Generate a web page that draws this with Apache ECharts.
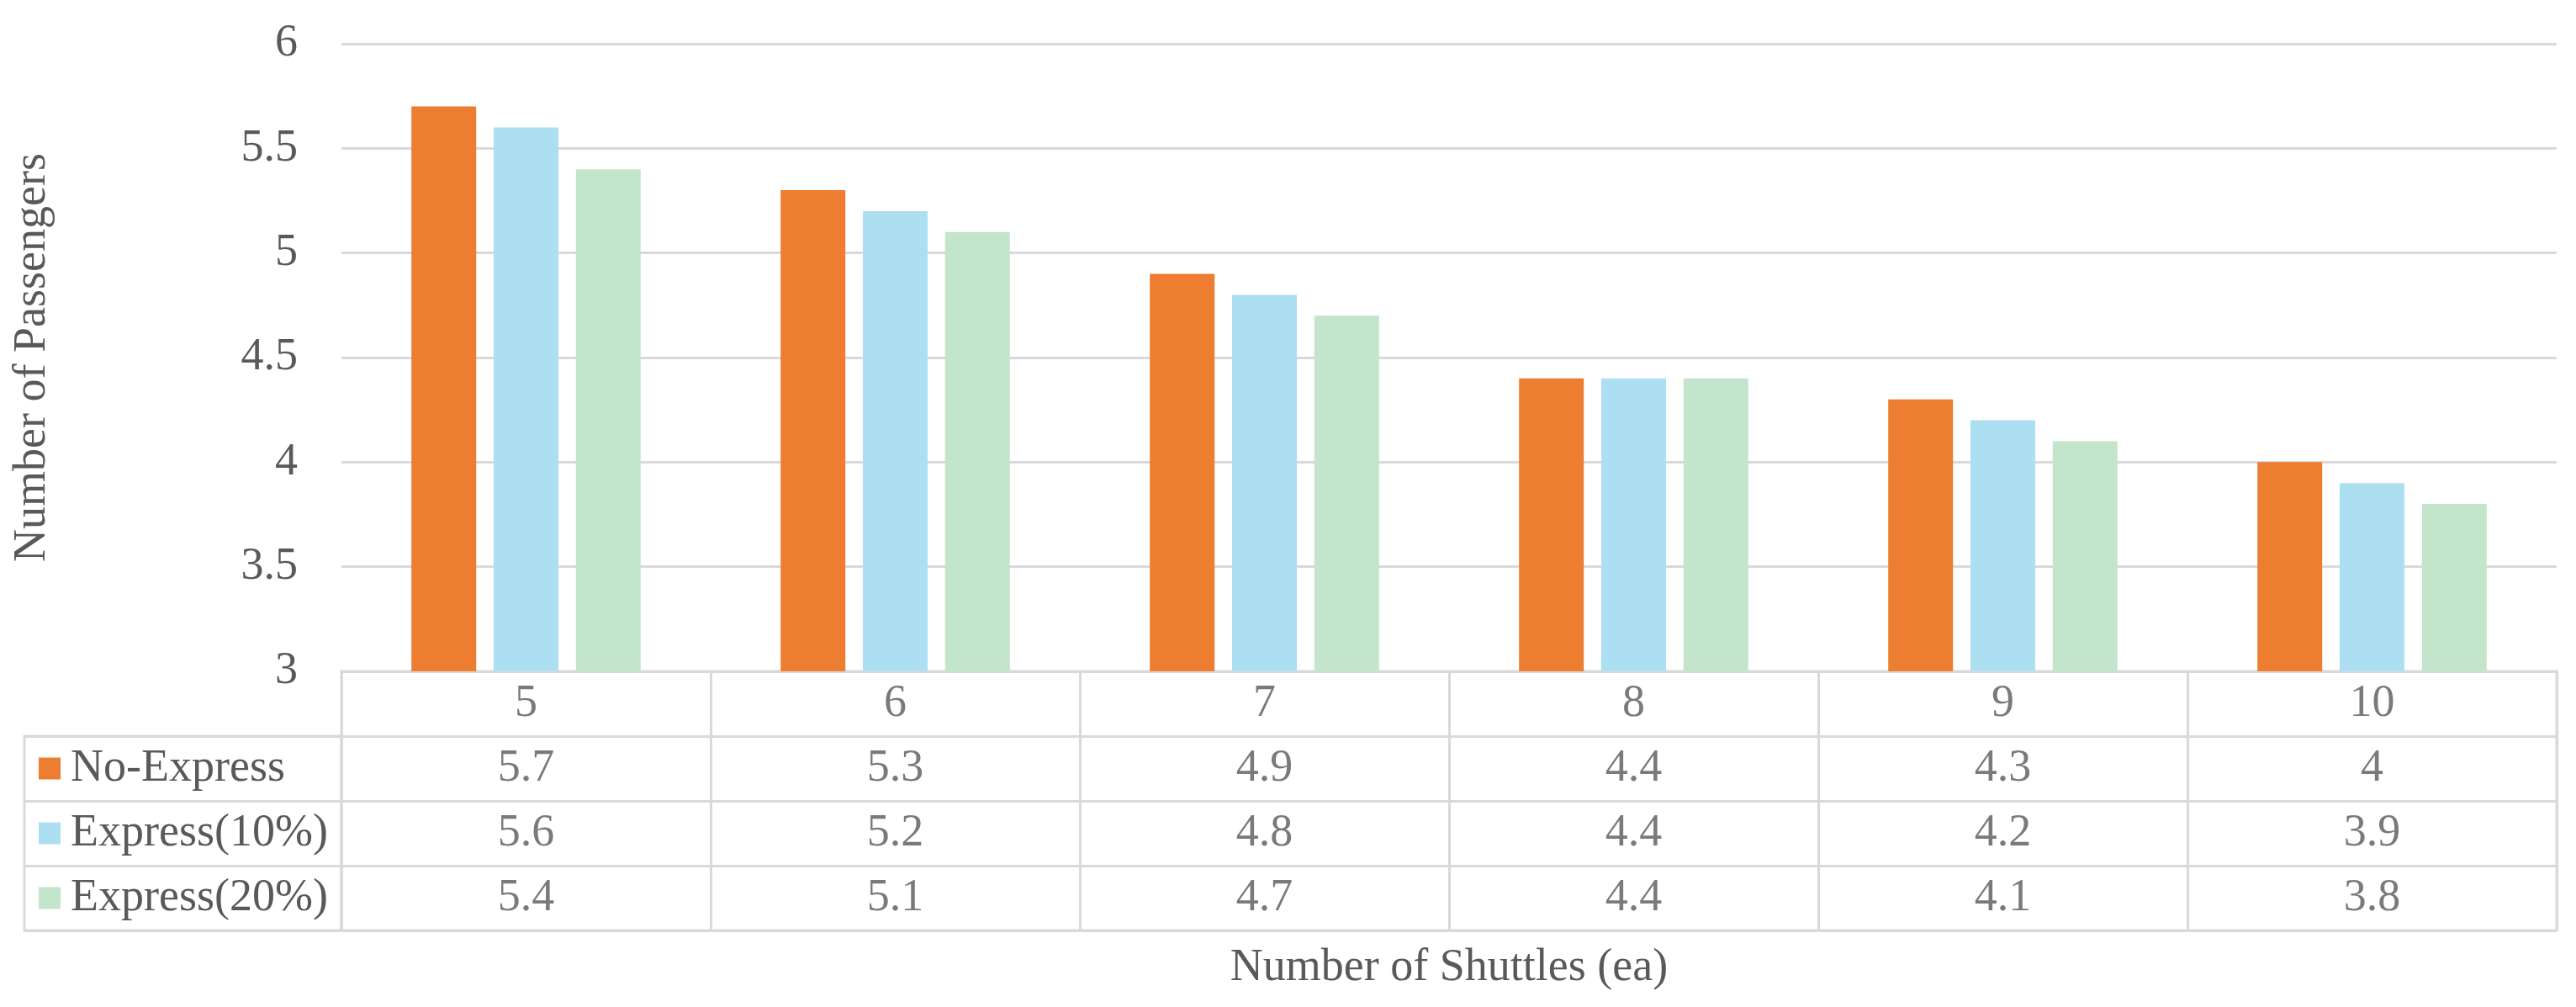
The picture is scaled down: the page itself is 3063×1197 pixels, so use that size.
<!DOCTYPE html>
<html>
<head>
<meta charset="utf-8">
<script src="https://cdn.jsdelivr.net/npm/echarts@6/dist/echarts.min.js"></script>
<style>html,body{margin:0;padding:0;background:#fff;}#chart{width:3063px;height:1197px;}</style>
</head>
<body>
<div id="chart"></div>
<script>
const categories = ['5', '6', '7', '8', '9', '10'];
const seriesNames = ['No-Express', 'Express(10%)', 'Express(20%)'];
const noExpress = [5.7, 5.3, 4.9, 4.4, 4.3, 4];
const express10 = [5.6, 5.2, 4.8, 4.4, 4.2, 3.9];
const express20 = [5.4, 5.1, 4.7, 4.4, 4.1, 3.8];
const yMin = 3, yMax = 6, yStep = 0.5;
const colors = ['#ED7D31', '#ADDFF2', '#C3E5CB'];

const FONT = 'Liberation Serif';
const TXT = '#595959';
const LINE = '#D9D9D9';
const FS = 54;

const allSeries = [noExpress, express10, express20];
const tableRows = ['header'].concat(seriesNames);
const cellData = [];
categories.forEach((c, i) => {
  cellData.push([i, 0, c]);
  allSeries.forEach((s, r) => cellData.push([i, r + 1, String(s[i])]));
});

const rich = { t: { fontFamily: FONT, fontSize: FS, color: TXT, padding: [0, 0, 0, 12] } };
colors.forEach((c, i) => { rich['s' + i] = { backgroundColor: c, width: 26, height: 26 }; });

const chart = echarts.init(document.getElementById('chart'));
chart.setOption({
  animation: false,
  backgroundColor: '#fff',
  grid: [
    { left: 406, right: 23, top: 52, bottom: 399 },
    { left: 406, right: 23, top: 798, bottom: 91, show: true, borderColor: LINE, borderWidth: 3 },
    { left: 29, width: 377, top: 875, bottom: 91, show: true, borderColor: LINE, borderWidth: 3 }
  ],
  xAxis: [
    { type: 'category', gridIndex: 0, data: categories,
      axisLine: { show: true, lineStyle: { color: LINE, width: 3 } },
      axisTick: { show: false }, axisLabel: { show: false }, splitLine: { show: false } },
    { type: 'category', gridIndex: 1, data: categories,
      axisLine: { show: false }, axisTick: { show: false }, axisLabel: { show: false },
      splitLine: { show: true, lineStyle: { color: LINE, width: 3 } },
      name: 'Number of Shuttles (ea)', nameLocation: 'middle', nameGap: 18,
      nameTextStyle: { fontFamily: FONT, fontSize: FS, color: TXT } },
    { type: 'value', gridIndex: 2, show: false, min: 0, max: 1 }
  ],
  yAxis: [
    { type: 'value', gridIndex: 0, min: yMin, max: yMax, interval: yStep,
      axisLine: { show: false }, axisTick: { show: false },
      axisLabel: { fontFamily: FONT, fontSize: FS, color: TXT, margin: 52 },
      splitLine: { show: true, lineStyle: { color: LINE, width: 3 } },
      name: 'Number of Passengers', nameLocation: 'middle', nameGap: 340,
      nameTextStyle: { fontFamily: FONT, fontSize: FS, color: TXT } },
    { type: 'category', gridIndex: 1, data: tableRows, inverse: true,
      axisLine: { show: false }, axisTick: { show: false }, axisLabel: { show: false },
      splitLine: { show: true, lineStyle: { color: LINE, width: 3 } } },
    { type: 'category', gridIndex: 2, data: seriesNames, inverse: true,
      axisLine: { show: false }, axisTick: { show: false },
      axisLabel: { inside: true, margin: 17, align: 'left',
        formatter: (v, i) => '{s' + i + '|}{t|' + v + '}', rich: rich },
      splitLine: { show: true, lineStyle: { color: LINE, width: 3 } } }
  ],
  series: [
    { type: 'bar', name: seriesNames[0], xAxisIndex: 0, yAxisIndex: 0, data: noExpress,
      barWidth: 77, barGap: '27%', itemStyle: { color: colors[0] } },
    { type: 'bar', name: seriesNames[1], xAxisIndex: 0, yAxisIndex: 0, data: express10,
      barWidth: 77, barGap: '27%', itemStyle: { color: colors[1] } },
    { type: 'bar', name: seriesNames[2], xAxisIndex: 0, yAxisIndex: 0, data: express20,
      barWidth: 77, barGap: '27%', itemStyle: { color: colors[2] } },
    { type: 'scatter', xAxisIndex: 1, yAxisIndex: 1, data: cellData, symbolSize: 1,
      itemStyle: { color: 'rgba(0,0,0,0)' }, silent: true,
      label: { show: true, position: 'inside', formatter: p => p.value[2],
        fontFamily: FONT, fontSize: FS, color: TXT } }
  ]
});
</script>
</body>
</html>
